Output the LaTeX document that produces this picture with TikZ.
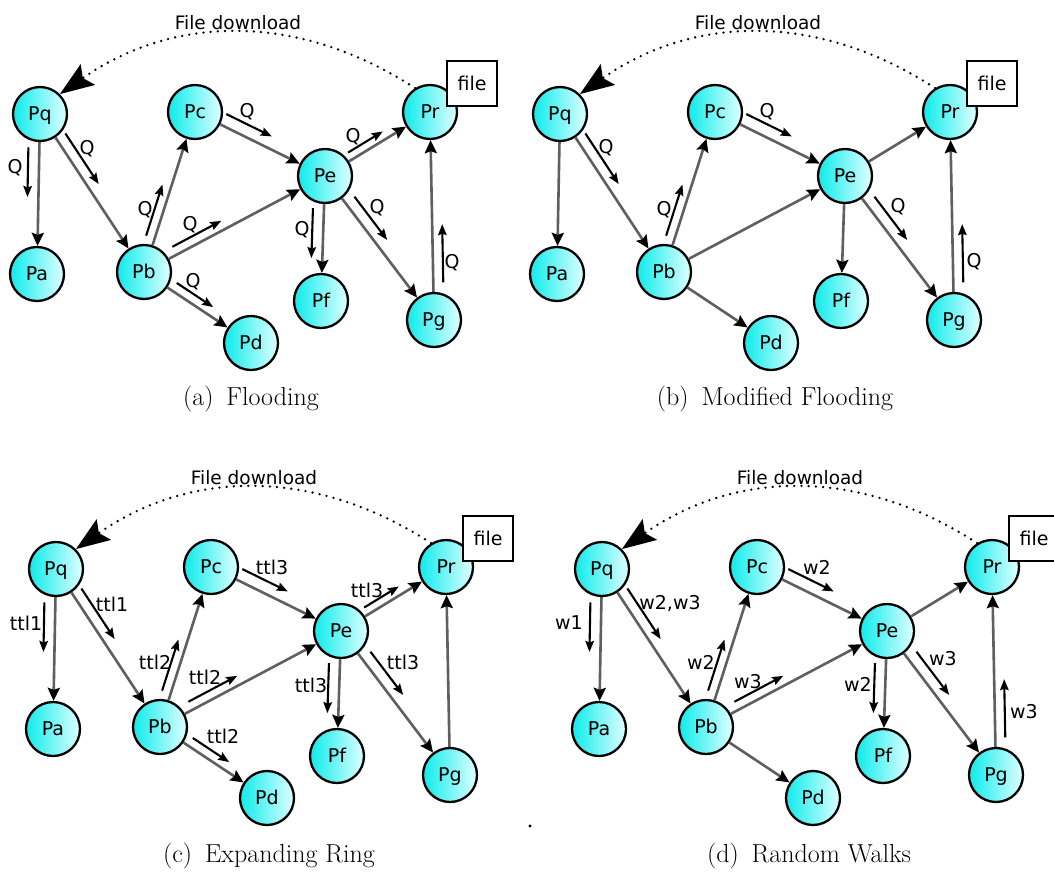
\documentclass[tikz,border=0pt]{standalone}
\usepackage{fontspec}
\newfontfamily\dejavu{DejaVu Sans}
\usetikzlibrary{arrows.meta,calc}
\definecolor{nl}{RGB}{15,235,235}
\definecolor{nr}{RGB}{225,255,255}
\definecolor{edgegray}{RGB}{95,95,95}
\tikzset{
  peer/.style={circle, draw=black, line width=2.3pt, minimum size=54pt, inner sep=0pt,
    left color=nl, right color=nr, font=\dejavu\fontsize{19}{21}\selectfont,
    text height=14pt, text depth=0.6pt},
  filebox/.style={draw=black, fill=white, line width=1.4pt, minimum width=50pt,
    minimum height=45pt, inner sep=0pt, font=\dejavu\fontsize{19}{21}\selectfont},
  edge/.style={draw=edgegray, line width=2.6pt,
    -{Stealth[length=13pt,width=12pt,inset=2pt,color=black]}},
  msgarrow/.style={draw=black, line width=2.1pt, -{Stealth[length=11pt,width=8.5pt,inset=1.5pt]}},
  lbl/.style={font=\dejavu\fontsize{19}{21}\selectfont, inner sep=0pt},
  dlarrow/.style={line width=2.6pt, dash pattern=on 0pt off 7.2pt, line cap=round,
    -{Stealth[length=34pt,width=25pt,inset=6pt]}},
  dltext/.style={font=\dejavu\fontsize{18.5}{20}\selectfont, inner sep=0pt},
  captext/.style={font=\fontsize{26}{29}\selectfont, inner sep=0pt, anchor=base}
}
\newcommand\basegraph{%
  \node[peer] (Pq) at (40,114) {Pq};
  \node[peer] (Pa) at (37,274) {Pa};
  \node[peer] (Pb) at (144,272) {Pb};
  \node[peer] (Pc) at (195,112) {Pc};
  \node[peer] (Pd) at (251,343) {Pd};
  \node[peer] (Pe) at (325,176) {Pe};
  \node[peer] (Pf) at (321,301) {Pf};
  \node[peer] (Pg) at (434,320) {Pg};
  \node[peer] (Pr) at (430,112) {Pr};
  \node[filebox] (file) at (472,83.5) {file};
  \draw[edge] (Pq) -- (Pa);
  \draw[edge] (Pq) -- (Pb);
  \draw[edge] (Pb) -- (Pc);
  \draw[edge] (Pb) -- (Pe);
  \draw[edge] (Pb) -- (Pd);
  \draw[edge] (Pc) -- (Pe);
  \draw[edge] (Pe) -- (Pr);
  \draw[edge] (Pe) -- (Pf);
  \draw[edge] (Pe) -- (Pg);
  \draw[edge] (Pg) -- (Pr);
  \draw[dlarrow] (Pr.122) to[bend right=34] (Pq.45);
  \node[dltext] (dl) at (238,22.5) {File download};
}
% from, to, t1, t2, offset, angle
\newcommand\msgarr[6]{\draw[msgarrow] ($(#1)!#3!(#2)!#5!#6:(#2)$) -- ($(#1)!#4!(#2)!#5!#6:(#2)$);}
\begin{document}
\begin{tikzpicture}[x=1pt,y=-1pt]
\fill[white] (0,0) rectangle (1054,873);
\useasboundingbox (0,0) rectangle (1054,873);

% (a) Flooding
\begin{scope}[name prefix=a-]
  \basegraph
  \msgarr{Pq}{Pa}{0.21}{0.52}{11pt}{-90}
  \msgarr{Pq}{Pb}{0.16}{0.48}{10.5pt}{90}
  \msgarr{Pb}{Pc}{0.21}{0.53}{9pt}{90}
  \msgarr{Pb}{Pe}{0.18}{0.45}{9pt}{90}
  \msgarr{Pb}{Pd}{0.26}{0.60}{9pt}{90}
  \msgarr{Pc}{Pe}{0.20}{0.55}{12pt}{90}
  \msgarr{Pe}{Pr}{0.26}{0.59}{8pt}{90}
  \msgarr{Pe}{Pf}{0.26}{0.66}{11pt}{-90}
  \msgarr{Pe}{Pg}{0.19}{0.49}{11pt}{90}
  \msgarr{Pg}{Pr}{0.18}{0.46}{10pt}{-90}
  \node[lbl] (l1) at (15,168) {Q};
  \node[lbl] (l2) at (87,149) {Q};
  \node[lbl] (l3) at (145,210) {Q};
  \node[lbl] (l4) at (190,225) {Q};
  \node[lbl] (l5) at (193,282) {Q};
  \node[lbl] (l6) at (247,112) {Q};
  \node[lbl] (l7) at (353,137) {Q};
  \node[lbl] (l8) at (302,230) {Q};
  \node[lbl] (l9) at (377,208) {Q};
  \node[lbl] (l10) at (452,263) {Q};
\end{scope}

% (b) Modified Flooding
\begin{scope}[shift={(520,0)}, name prefix=b-]
  \basegraph
  \msgarr{Pq}{Pb}{0.16}{0.48}{10.5pt}{90}
  \msgarr{Pb}{Pc}{0.21}{0.53}{9pt}{90}
  \msgarr{Pc}{Pe}{0.20}{0.55}{12pt}{90}
  \msgarr{Pe}{Pg}{0.19}{0.49}{11pt}{90}
  \msgarr{Pg}{Pr}{0.18}{0.46}{10pt}{-90}
  \node[lbl] (l2) at (86,148) {Q};
  \node[lbl] (l3) at (144,210) {Q};
  \node[lbl] (l6) at (247,112) {Q};
  \node[lbl] (l9) at (378,207) {Q};
  \node[lbl] (l10) at (454,262) {Q};
\end{scope}

% (c) Expanding Ring
\begin{scope}[shift={(16,455)}, name prefix=c-]
  \basegraph
  \msgarr{Pq}{Pa}{0.21}{0.52}{11pt}{-90}
  \msgarr{Pq}{Pb}{0.16}{0.48}{10.5pt}{90}
  \msgarr{Pb}{Pc}{0.21}{0.53}{9pt}{90}
  \msgarr{Pb}{Pe}{0.18}{0.45}{9pt}{90}
  \msgarr{Pb}{Pd}{0.26}{0.60}{9pt}{90}
  \msgarr{Pc}{Pe}{0.20}{0.55}{12pt}{90}
  \msgarr{Pe}{Pr}{0.26}{0.59}{8pt}{90}
  \msgarr{Pe}{Pf}{0.26}{0.66}{11pt}{-90}
  \msgarr{Pe}{Pg}{0.19}{0.49}{11pt}{90}
  \node[lbl] (l1) at (10,168) {ttl1};
  \node[lbl] (l2) at (96,149) {ttl1};
  \node[lbl] (l3) at (139,207) {ttl2};
  \node[lbl] (l4) at (189,222) {ttl2};
  \node[lbl] (l5) at (207,281) {ttl2};
  \node[lbl] (l6) at (256,112) {ttl3};
  \node[lbl] (l7) at (351,135) {ttl3};
  \node[lbl] (l8) at (295,230) {ttl3};
  \node[lbl] (l9) at (387,207) {ttl3};
\end{scope}

% (d) Random Walks
\begin{scope}[shift={(562,455)}, name prefix=d-]
  \basegraph
  \msgarr{Pq}{Pa}{0.21}{0.52}{11pt}{-90}
  \msgarr{Pq}{Pb}{0.16}{0.48}{10.5pt}{90}
  \msgarr{Pb}{Pc}{0.21}{0.53}{9pt}{90}
  \msgarr{Pb}{Pe}{0.18}{0.45}{9pt}{90}
  \msgarr{Pc}{Pe}{0.20}{0.55}{12pt}{90}
  \msgarr{Pe}{Pf}{0.26}{0.66}{11pt}{-90}
  \msgarr{Pe}{Pg}{0.19}{0.49}{11pt}{90}
  \msgarr{Pg}{Pr}{0.18}{0.46}{10pt}{-90}
  \node[lbl] (l1) at (7,168) {w1};
  \node[lbl] (l2) at (108,149) {w2,w3};
  \node[lbl] (l3) at (139,207) {w2};
  \node[lbl] (l4) at (186,227) {w3};
  \node[lbl] (l6) at (255,112) {w2};
  \node[lbl] (l8) at (296,229) {w2};
  \node[lbl] (l9) at (381,204) {w3};
  \node[lbl] (l10) at (462,257) {w3};
\end{scope}

% captions
\node[captext] (capa) at (251,405) {(a)\enspace Flooding};
\node[captext] (capb) at (775,405) {(b)\enspace Modified Flooding};
\node[captext] (capc) at (269,862) {(c)\enspace Expanding Ring};
\node[captext] (capd) at (809,862) {(d)\enspace Random Walks};
\fill (530,826) circle[radius=1.6pt];
\end{tikzpicture}
\end{document}
